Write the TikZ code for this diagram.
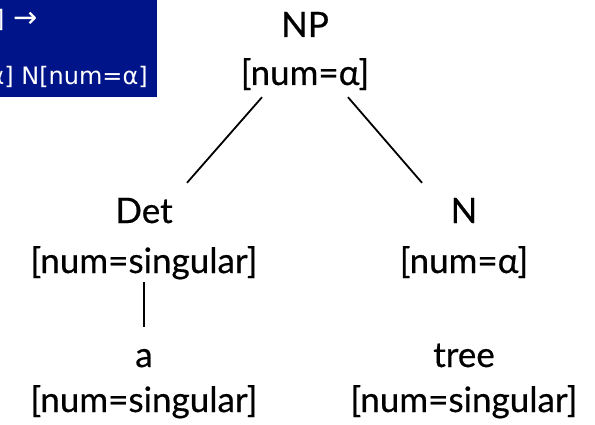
\documentclass[tikz,border=0pt]{standalone}
\usepackage{fontspec}
\setmainfont{Lato}[FakeBold=0.5]
\newfontfamily\rulefont{DejaVu Sans}
\usetikzlibrary{calc}
\definecolor{ruleblue}{RGB}{0,20,137}
\tikzset{
  treetext/.style={font=\fontsize{35}{42}\selectfont, inner sep=0pt,
    text height=25pt, text depth=8pt, anchor=base},
  ruletext/.style={font=\rulefont\fontsize{24}{29}\selectfont, text=white,
    inner sep=0pt, anchor=base east},
  edge/.style={line width=1.8pt, black}
}
\begin{document}
\begin{tikzpicture}[x=1pt, y=-1pt]
  \useasboundingbox (0,0) rectangle (595,425);

  % grammar rule panel, cut off at the left edge
  \fill[ruleblue] (0,0) rectangle (157,97);
  \begin{scope}
    \clip (0,0) rectangle (157,97);
    \node[ruletext] (rulelhs) at (38,28) {NP[num=α]\hspace{9pt}{\fontsize{29}{29}\selectfont →}};
    \node[ruletext] (rulerhs) at (148,85) {Det[num=α] N[num=α]};
  \end{scope}

  % tree nodes: category and feature lines
  \node[treetext] (np)   at (305,37)  {NP};
  \node[treetext] (npf)  at (305,85)  {[num=α]};
  \node[treetext] (det)  at (144,223) {Det};
  \node[treetext] (detf) at (144,273) {[num=singular]};
  \node[treetext] (n)    at (464,223) {N};
  \node[treetext] (nf)   at (464,273) {[num=α]};
  \node[treetext] (a)    at (144,367) {a};
  \node[treetext] (af)   at (144,412) {[num=singular]};
  \node[treetext] (tree) at (464,367) {tree};
  \node[treetext] (treef) at (464,412) {[num=singular]};

  % branches
  \draw[edge] ($(npf.south)+(-43,4)$) -- ($(det.north)+(43,-15)$);
  \draw[edge] ($(npf.south)+(43,4)$) -- ($(n.north)+(-42,-15)$);
  \draw[edge] ($(detf.south)+(0,1)$) -- ($(a.north)+(0,-15)$);
\end{tikzpicture}
\end{document}
